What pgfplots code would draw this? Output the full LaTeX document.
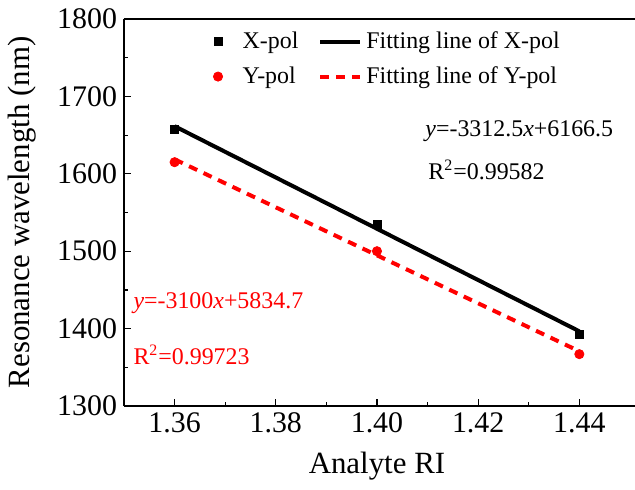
\documentclass[border=0pt]{standalone}
\usepackage{fontspec}
\setmainfont{Liberation Serif}
\usepackage{pgfplots}
\pgfplotsset{compat=1.18}
\pgfplotsset{
    markleg/.style={legend image code/.code={\draw[##1] plot coordinates {(0bp,0bp)};}},
    lineleg/.style={legend image code/.code={\draw[##1] (0bp,0bp) -- (20bp,0bp);}},
}

\begin{document}
\begin{tikzpicture}
\begin{axis}[
    scale only axis,
    width=255.5bp, height=193.5bp,
    xmin=1.35, xmax=1.451,
    ymin=1300, ymax=1800,
    axis lines*=left,
    axis line style={black, line width=0.7bp},
    xtick={1.36,1.38,1.40,1.42,1.44},
    ytick={1300,1400,1500,1600,1700,1800},
    minor x tick num=1, minor y tick num=1,
    major tick length=3.5bp, minor tick length=2bp,
    tick style={black, line width=0.6bp},
    /pgf/number format/assume math mode=true,
    x tick label style={/pgf/number format/.cd, fixed, fixed zerofill, precision=2},
    y tick label style={/pgf/number format/.cd, 1000 sep={}},
    tick label style={font=\fontsize{15}{18}\selectfont},
    xlabel={Analyte RI},
    ylabel={Resonance wavelength (nm)},
    xlabel style={at={(rel axis cs:0.495,0)}, anchor=center, yshift=-30bp,
        font=\fontsize{15.5}{18}\selectfont},
    ylabel style={at={([xshift=-51bp]rel axis cs:0,0.5)}, anchor=center,
        font=\fontsize{15.5}{18}\selectfont},
    clip=false,
    legend columns=2,
    legend cell align=left,
    legend style={draw=none, fill=none, inner sep=0pt, outer sep=0pt,
        at={(rel axis cs:0.175,0.972)}, anchor=north west,
        font=\fontsize{12}{14}\selectfont, row sep=5.5bp,
        nodes={inner sep=1bp},
        /tikz/column 1/.style={column sep=9bp},
        /tikz/column 2/.style={column sep=9bp},
        /tikz/column 3/.style={column sep=1bp}},
]
\addplot[only marks, mark=square*, mark size=2bp, black, markleg]
  coordinates {(1.36,1658) (1.40,1535) (1.44,1392)};
\addlegendentry{X-pol}
\addplot[black, line width=2bp, no marks, lineleg]
  coordinates {(1.36,1661.5) (1.44,1396.5)};
\addlegendentry{Fitting line of X-pol}
\addplot[only marks, mark=*, mark size=2.3bp, red, markleg]
  coordinates {(1.36,1615) (1.40,1500) (1.44,1367)};
\addlegendentry{Y-pol}
\addplot[red, line width=2bp, no marks, dash pattern=on 4.5bp off 3.5bp, lineleg]
  coordinates {(1.36,1618.7) (1.44,1370.7)};
\addlegendentry{Fitting line of Y-pol}

\draw[black, line width=0.7bp] (rel axis cs:0,1) -- (rel axis cs:1,1);

\node[anchor=west, inner sep=0pt, font=\fontsize{12}{14}\selectfont] at (axis cs:1.4095,1655) {\textit{y}=-3312.5\textit{x}+6166.5};
\node[anchor=west, inner sep=0pt, font=\fontsize{12}{14}\selectfont] at (axis cs:1.4101,1605) {R\textsuperscript{2}=0.99582};
\node[anchor=west, inner sep=0pt, red, font=\fontsize{12}{14}\selectfont] at (axis cs:1.3518,1433) {\textit{y}=-3100\textit{x}+5834.7};
\node[anchor=west, inner sep=0pt, red, font=\fontsize{12}{14}\selectfont] at (axis cs:1.3518,1366) {R\textsuperscript{2}=0.99723};
\end{axis}
\pgfresetboundingbox
\useasboundingbox (-62bp,-42bp) rectangle (255.5bp,203bp);
\end{tikzpicture}
\end{document}
